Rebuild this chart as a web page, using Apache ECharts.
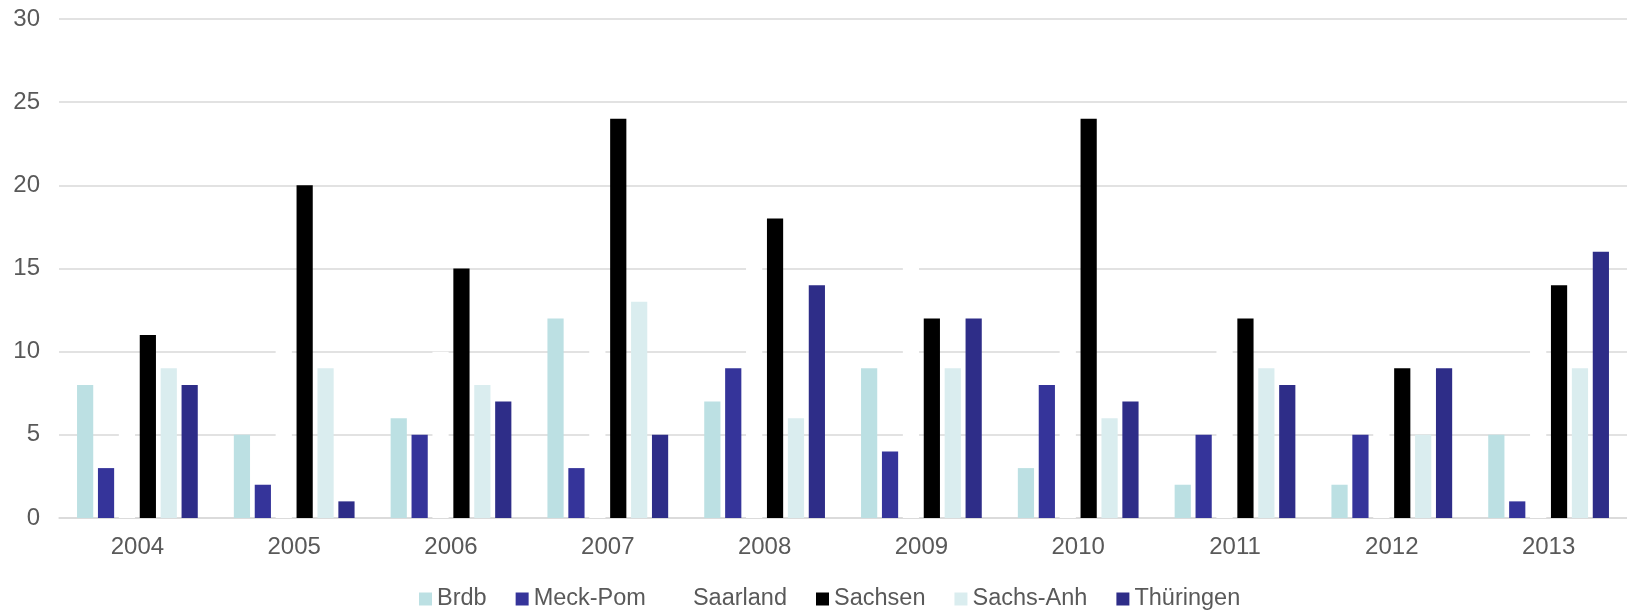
<!DOCTYPE html>
<html>
<head>
<meta charset="utf-8">
<script src="https://cdn.jsdelivr.net/npm/echarts@6/dist/echarts.min.js"></script>
<style>
html,body{margin:0;padding:0;background:#fff;}
#chart{width:1627px;height:612px;}
</style>
</head>
<body>
<div id="chart"></div>
<script>
const years = ['2004','2005','2006','2007','2008','2009','2010','2011','2012','2013'];
const brdb      = [8, 5, 6, 12, 7, 9, 3, 2, 2, 5];
const meckPom   = [3, 2, 5, 3, 9, 4, 8, 5, 5, 1];
const saarland  = [7, 12, 10, 12, 17, 16, 12, 12, 7, 12];
const sachsen   = [11, 20, 15, 24, 18, 12, 24, 12, 9, 14];
const sachsAnh  = [9, 9, 8, 13, 6, 9, 6, 9, 5, 9];
const thueringen= [8, 1, 7, 5, 14, 12, 7, 8, 9, 16];
const yTicks = [0, 5, 10, 15, 20, 25, 30];

const seriesDefs = [
  {name:'Brdb', data:brdb, color:'#BCE0E3'},
  {name:'Meck-Pom', data:meckPom, color:'#35349A'},
  {name:'Saarland', data:saarland, color:'#FFFFFF'},
  {name:'Sachsen', data:sachsen, color:'#000000'},
  {name:'Sachs-Anh', data:sachsAnh, color:'#DAEDEF'},
  {name:'Thüringen', data:thueringen, color:'#2E2D88'}
];

const font = 'Liberation Sans, Arial, sans-serif';
const chart = echarts.init(document.getElementById('chart'), null, {renderer:'canvas'});
chart.setOption({
  animation:false,
  backgroundColor:'#ffffff',
  grid:{left:59, right:0, top:19, bottom:94, containLabel:false},
  legend:{
    top:582, left:414,
    itemWidth:13, itemHeight:13, itemGap:29,
    icon:'rect',
    textStyle:{fontFamily:font, fontSize:23.5, color:'#595959'},
    data:seriesDefs.map(s=>s.name)
  },
  xAxis:{
    type:'category', data:years,
    axisLine:{show:true, lineStyle:{color:'#D9D9D9', width:1.5}},
    axisTick:{show:false},
    axisLabel:{fontFamily:font, fontSize:24, color:'#595959', margin:17}
  },
  yAxis:{
    type:'value', min:yTicks[0], max:yTicks[yTicks.length-1], interval:5,
    axisLine:{show:false}, axisTick:{show:false},
    splitLine:{lineStyle:{color:'#D9D9D9', width:1.5}},
    axisLabel:{fontFamily:font, fontSize:24, color:'#595959', margin:19}
  },
  series: seriesDefs.map(s=>({
    name:s.name, type:'bar', data:s.data,
    barCategoryGap:'23%', barGap:'29%',
    itemStyle:{color:s.color},
    emphasis:{disabled:true}
  }))
});
</script>
</body>
</html>
